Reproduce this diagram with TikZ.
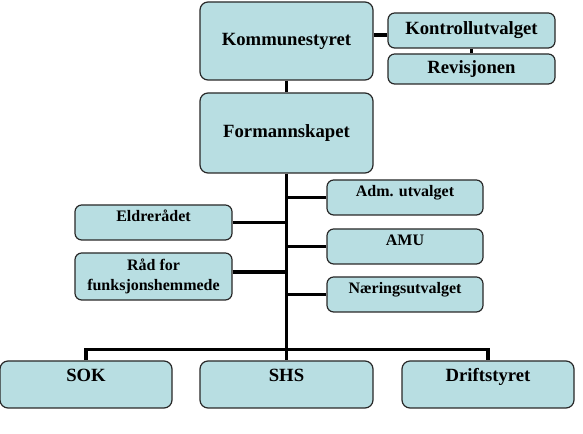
\documentclass[tikz,border=0pt]{standalone}
\usepackage{fontspec}
\setmainfont{Liberation Serif}
\definecolor{boxblue}{RGB}{184,222,226}
\definecolor{boxline}{RGB}{40,40,40}
\begin{document}
\begin{tikzpicture}[x=0.75pt,y=-0.75pt,
  box/.style={draw=boxline, line width=0.9pt, fill=boxblue, rounded corners=6pt, align=center, font=\bfseries},
  bigbox/.style={box, font=\fontsize{14}{16}\selectfont\bfseries},
  smallbox/.style={box, font=\fontsize{12}{15.5}\selectfont\bfseries, rounded corners=5pt},
  topsmall/.style={smallbox, inner ysep=0pt, text height=12.75pt, text depth=13.5pt, minimum width=117pt},
  topbig/.style={bigbox, inner ysep=0pt, text height=15.75pt, text depth=19.5pt, minimum width=129pt},
  conn/.style={line width=2.5pt, black}]
\useasboundingbox (0,0) rectangle (583,434);

\node[bigbox, minimum width=129.75pt, minimum height=58.5pt] (kom) at (286.5,41) {Kommunestyret};
\node[bigbox, minimum width=129.75pt, minimum height=60pt] (form) at (286.5,133) {Formannskapet};
\node[bigbox, minimum width=125.25pt, minimum height=26.25pt, rounded corners=5pt] (kon) at (471.5,30.5) {Kontrollutvalget};
\node[bigbox, minimum width=125.25pt, minimum height=22.5pt, inner ysep=0pt, rounded corners=5pt] (rev) at (471.5,69) {Revisjonen};

\node[topsmall] (adm) at (405,197.5) {Adm. utvalget};
\node[topsmall, minimum width=117.75pt] (eld) at (153.5,222.5) {Eldrerådet};
\node[topsmall] (amu) at (405,246.5) {AMU};
\node[smallbox, minimum width=117.75pt, minimum height=35.25pt] (rad) at (153.5,276.5) {Råd for\\funksjonshemmede};
\node[topsmall] (nar) at (405,294.5) {Næringsutvalget};

\node[topbig] (sok) at (86,384.5) {SOK};
\node[topbig, minimum width=129.75pt] (shs) at (286.5,384.5) {SHS};
\node[topbig] (dri) at (488,384.5) {Driftstyret};

\coordinate (bus) at (286.5,349.5);

\draw[conn] (kom.south) -- (form.north);
\draw[conn] (kon.south) -- (rev.north);
\draw[conn] ([yshift=-3.4pt]kon.west) -- ([yshift=-3.4pt]kon.west -| kom.east);
\draw[conn] (form.south) -- (bus);
\draw[conn] (sok.north) |- (bus) -| (dri.north);
\draw[conn] (bus) -- (shs.north);
\draw[conn] (adm.west) -- (adm.west -| bus);
\draw[conn] (eld.east) -- (eld.east -| bus);
\draw[conn] (amu.west) -- (amu.west -| bus);
\draw[conn] ([yshift=3.4pt]rad.east) -- ([yshift=3.4pt]rad.east -| bus);
\draw[conn] (nar.west) -- (nar.west -| bus);
\end{tikzpicture}
\end{document}
